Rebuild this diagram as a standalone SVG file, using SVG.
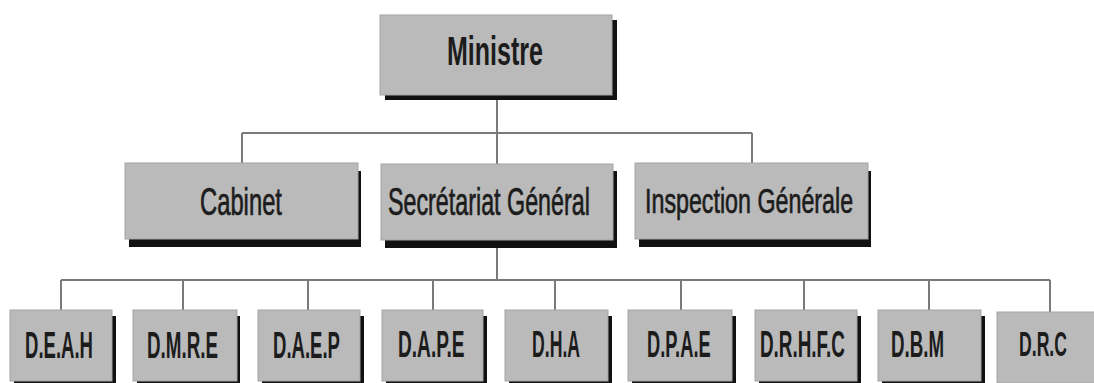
<svg xmlns="http://www.w3.org/2000/svg" width="1094" height="383" viewBox="0 0 1094 383">
<style>
.box{fill:#bababa;stroke:#a4a4a4;stroke-width:1}
.sh{fill:#111}
.t{font-family:"Liberation Sans",Arial,sans-serif;fill:#1c1c1c;text-anchor:start}
.b{font-weight:bold}
.m{stroke:#1c1c1c;stroke-width:0.7}
.ln{stroke:#7a7a7a;stroke-width:2;fill:none}
</style>
<rect width="1094" height="383" fill="#ffffff"/>
<g id="connectors">
<path class="ln" d="M497 95V133M242 133H752M242 133V163M497 133V165M752 133V163"/>
<path class="ln" d="M497 240V280M61 280H1050M61 280V310M183 280V310M308 280V310M433 280V310M555 280V310M681 280V310M804 280V310M929 280V310M1050 280V312"/>
</g>
<g id="ministre">
<rect class="sh" x="385" y="20" width="232" height="80"/>
<rect class="box" x="380" y="15" width="232" height="80"/>
<text class="t b" font-size="40" transform="translate(447,65) scale(0.626,1)">Ministre</text>
</g>
<g id="cabinet">
<rect class="sh" x="129" y="171" width="232" height="76"/>
<rect class="box" x="125" y="163" width="233" height="76"/>
<text class="t m" font-size="38" transform="translate(200,215) scale(0.626,1)">Cabinet</text>
</g>
<g id="secretariat">
<rect class="sh" x="385" y="171" width="232" height="77"/>
<rect class="box" x="381" y="164" width="232" height="76"/>
<text class="t m" font-size="38" transform="translate(388,215) scale(0.613,1)">Secrétariat Général</text>
</g>
<g id="inspection">
<rect class="sh" x="639" y="171" width="232" height="76"/>
<rect class="box" x="635" y="163" width="233" height="76"/>
<text class="t m" font-size="36" transform="translate(645,213) scale(0.646,1)">Inspection Générale</text>
</g>
<g id="deah">
<rect class="sh" x="14" y="316" width="102" height="70"/>
<rect class="box" x="10" y="310" width="102" height="71"/>
<text class="t b" font-size="37" transform="translate(25,358) scale(0.501,1)">D.E.A.H</text>
</g>
<g id="dmre">
<rect class="sh" x="137" y="316" width="103" height="70"/>
<rect class="box" x="133" y="310" width="104" height="71"/>
<text class="t b" font-size="37" transform="translate(147,358) scale(0.508,1)">D.M.R.E</text>
</g>
<g id="daep">
<rect class="sh" x="262" y="316" width="102" height="70"/>
<rect class="box" x="258" y="310" width="102" height="71"/>
<text class="t b" font-size="37" transform="translate(273,358) scale(0.501,1)">D.A.E.P</text>
</g>
<g id="dape">
<rect class="sh" x="386" y="316" width="101" height="70"/>
<rect class="box" x="382" y="310" width="101" height="71"/>
<text class="t b" font-size="37" transform="translate(398,357) scale(0.516,1)">D.A.P.E</text>
</g>
<g id="dha">
<rect class="sh" x="509" y="316" width="103" height="70"/>
<rect class="box" x="505" y="310" width="103" height="71"/>
<text class="t b" font-size="37" transform="translate(532,357) scale(0.477,1)">D.H.A</text>
</g>
<g id="dpae">
<rect class="sh" x="632" y="316" width="104" height="70"/>
<rect class="box" x="628" y="310" width="104" height="71"/>
<text class="t b" font-size="37" transform="translate(647,357) scale(0.494,1)">D.P.A.E</text>
</g>
<g id="drhfc">
<rect class="sh" x="759" y="316" width="102" height="70"/>
<rect class="box" x="755" y="310" width="102" height="71"/>
<text class="t b" font-size="37" transform="translate(760,357) scale(0.51,1)">D.R.H.F.C</text>
</g>
<g id="dbm">
<rect class="sh" x="882" y="316" width="103" height="70"/>
<rect class="box" x="878" y="310" width="103" height="71"/>
<text class="t b" font-size="37" transform="translate(891,357) scale(0.506,1)">D.B.M</text>
</g>
<g id="drc">
<rect class="box" x="997" y="312" width="100" height="71"/>
<text class="t b" font-size="35" transform="translate(1019,356) scale(0.504,1)">D.R.C</text>
</g>
</svg>
